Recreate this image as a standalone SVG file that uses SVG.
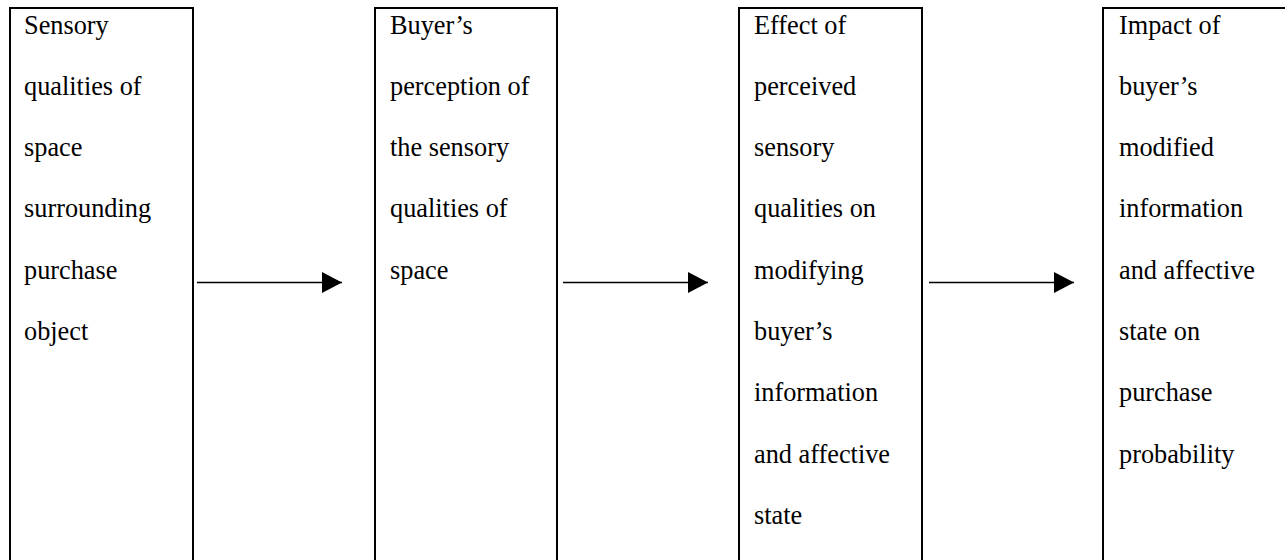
<svg xmlns="http://www.w3.org/2000/svg" width="1285" height="560" viewBox="0 0 1285 560">
<style>
.box{fill:#fff;stroke:#000;stroke-width:2}
.t{font-family:"Liberation Serif","Times New Roman",serif;font-size:26.3px;fill:#000}
.conn{stroke:#000;stroke-width:1.5;fill:none}
</style>
<defs>
<marker id="ah" markerUnits="userSpaceOnUse" markerWidth="20" markerHeight="21" refX="20" refY="10.5" orient="auto">
<path d="M0,0 L20,10.5 L0,21 Z" fill="#000"/>
</marker>
</defs>
<rect width="1285" height="560" fill="#fff"/>
<g id="node1">
<rect class="box" x="10" y="8" width="183" height="570"/>
<text class="t"><tspan x="24" y="33.5">Sensory</tspan><tspan x="24" y="94.8">qualities of</tspan><tspan x="24" y="156.1">space</tspan><tspan x="24" y="217.4">surrounding</tspan><tspan x="24" y="278.7">purchase</tspan><tspan x="24" y="340">object</tspan></text>
</g>
<g id="node2">
<rect class="box" x="375" y="8" width="182" height="570"/>
<text class="t"><tspan x="390" y="33.5">Buyer’s</tspan><tspan x="390" y="94.8">perception of</tspan><tspan x="390" y="156.1">the sensory</tspan><tspan x="390" y="217.4">qualities of</tspan><tspan x="390" y="278.7">space</tspan></text>
</g>
<g id="node3">
<rect class="box" x="739" y="8" width="183" height="570"/>
<text class="t"><tspan x="754" y="33.5">Effect of</tspan><tspan x="754" y="94.8">perceived</tspan><tspan x="754" y="156.1">sensory</tspan><tspan x="754" y="217.4">qualities on</tspan><tspan x="754" y="278.7">modifying</tspan><tspan x="754" y="340">buyer’s</tspan><tspan x="754" y="401.3">information</tspan><tspan x="754" y="462.6">and affective</tspan><tspan x="754" y="523.9">state</tspan></text>
</g>
<g id="node4">
<rect class="box" x="1103" y="8" width="184" height="570"/>
<text class="t"><tspan x="1119" y="33.5">Impact of</tspan><tspan x="1119" y="94.8">buyer’s</tspan><tspan x="1119" y="156.1">modified</tspan><tspan x="1119" y="217.4">information</tspan><tspan x="1119" y="278.7">and affective</tspan><tspan x="1119" y="340">state on</tspan><tspan x="1119" y="401.3">purchase</tspan><tspan x="1119" y="462.6">probability</tspan></text>
</g>
<g id="connectors">
<line class="conn" x1="197" y1="282.5" x2="342" y2="282.5" marker-end="url(#ah)"/>
<line class="conn" x1="563" y1="282.5" x2="708" y2="282.5" marker-end="url(#ah)"/>
<line class="conn" x1="929" y1="282.5" x2="1074" y2="282.5" marker-end="url(#ah)"/>
</g>
</svg>
